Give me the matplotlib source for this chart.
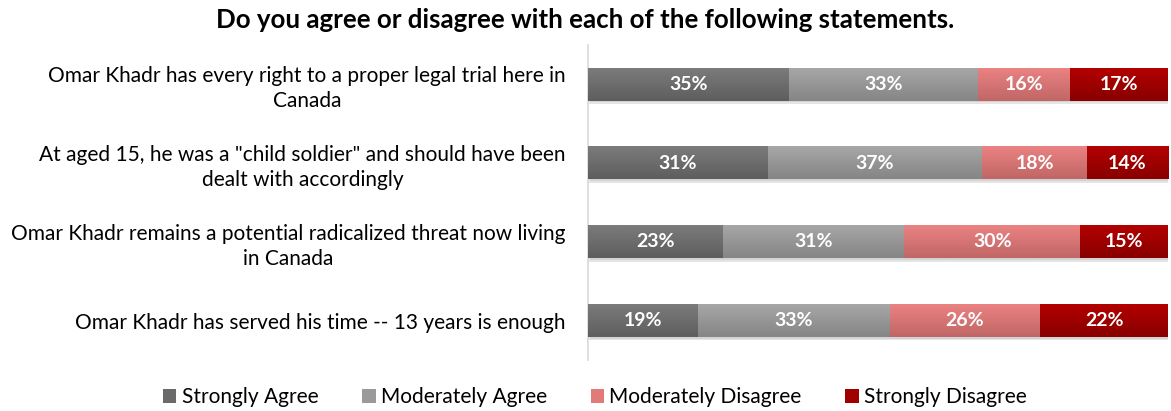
import matplotlib

matplotlib.use("Agg")
import matplotlib.pyplot as plt
import numpy as np
from matplotlib.colors import to_rgb

plt.rcParams["font.family"] = ["Lato", "DejaVu Sans"]

statements = [
    "Omar Khadr has every right to a proper legal trial here in\nCanada",
    "At aged 15, he was a \"child soldier\" and should have been\ndealt with accordingly",
    "Omar Khadr remains a potential radicalized threat now living\nin Canada",
    "Omar Khadr has served his time -- 13 years is enough",
]
series = ["Strongly Agree", "Moderately Agree", "Moderately Disagree", "Strongly Disagree"]
strongly_agree = [35, 31, 23, 19]
moderately_agree = [33, 37, 31, 33]
moderately_disagree = [16, 18, 30, 26]
strongly_disagree = [17, 14, 15, 22]

# (top, bottom) of the vertical gradient for each segment, plus legend swatch colour
grad = [("#7b7b7b", "#5e5e5e"), ("#a6a6a6", "#868686"),
        ("#eb8282", "#c06666"), ("#b30000", "#880000")]
swatch = ["#6a6a6a", "#9a9a9a", "#e27a7a", "#a00000"]

values = np.array([strongly_agree, moderately_agree, moderately_disagree, strongly_disagree], dtype=float)
shares = values / values.sum(axis=0) * 100  # 100% stacked

fig = plt.figure(figsize=(11.71, 4.11), dpi=100)
ax = fig.add_axes([0.502, 0.124, 0.4955, 0.7665])

bar_h = 0.41
y = np.arange(len(statements))

# faint drop shadow under each full bar
ax.barh(y + 0.045, 100, height=bar_h, left=0, color="black", alpha=0.10, zorder=1)
ax.barh(y + 0.025, 100, height=bar_h, left=0.3, color="black", alpha=0.08, zorder=1)

left = np.zeros(len(statements))
for k, name in enumerate(series):
    bars = ax.barh(y, shares[k], left=left, height=bar_h, color=swatch[k],
                   label=name, zorder=2, linewidth=0)
    top, bot = np.array(to_rgb(grad[k][0])), np.array(to_rgb(grad[k][1]))
    t = np.linspace(0, 1, 32)[:, None]
    img = (top * (1 - t) + bot * t)[:, None, :]
    for i, b in enumerate(bars):
        x0, x1 = left[i], left[i] + shares[k][i]
        ax.imshow(img, extent=(x0, x1, y[i] + bar_h / 2, y[i] - bar_h / 2),
                  aspect="auto", interpolation="bilinear", zorder=3)
        ax.text((x0 + x1) / 2, y[i], f"{int(values[k][i])}%", ha="center", va="center",
                color="white", fontsize=14, fontweight="bold", zorder=4)
    left += shares[k]

ax.set_xlim(0, 100)
ax.set_ylim(3.5, -0.5)
ax.set_xticks([])
ax.set_yticks(y)
ax.set_yticklabels(statements, fontsize=15, multialignment="center", linespacing=1.3)
ax.tick_params(axis="y", length=0, pad=16)
for side in ("top", "right", "bottom"):
    ax.spines[side].set_visible(False)
ax.spines["left"].set_color("#d9d9d9")
ax.spines["left"].set_linewidth(1.2)

fig.suptitle("Do you agree or disagree with each of the following statements.",
             x=0.5, y=0.98, fontsize=18.6, fontweight="bold")

fig.legend(loc="center", bbox_to_anchor=(0.508, 0.034), ncol=4, frameon=False,
           fontsize=15, handlelength=0.65, handleheight=0.65, handletextpad=0.25,
           columnspacing=2.1)

fig.savefig("out.png", dpi=100)
